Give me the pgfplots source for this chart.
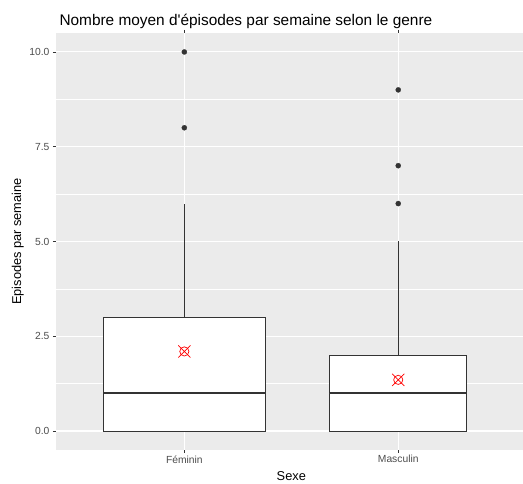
\documentclass[border=0pt]{standalone}
\usepackage{pgfplots}
\pgfplotsset{compat=1.18}
\usepgfplotslibrary{statistics}
\usetikzlibrary{plotmarks}
\usepackage{fontspec}
\setmainfont{Liberation Sans}
\definecolor{panelbg}{HTML}{EBEBEB}
\definecolor{grey20}{HTML}{333333}
\definecolor{grey30}{HTML}{4D4D4D}
\begin{document}
\begin{tikzpicture}
\clip (0pt,0pt) rectangle (523pt,484pt);
\path[use as bounding box] (0pt,0pt) rectangle (523pt,484pt);
\fill[white] (0pt,0pt) rectangle (523pt,484pt);
\begin{axis}[
  at={(56pt,34pt)}, anchor=south west,
  scale only axis, width=470.6pt, height=417pt,
  xmin=0.4, xmax=2.6, ymin=-0.5, ymax=10.5,
  axis background/.style={fill=panelbg},
  axis line style={draw=none},
  xtick={1,2}, xticklabels={Féminin,Masculin},
  ytick={0,2.5,5,7.5,10},
  minor ytick={1.25,3.75,6.25,8.75},
  yticklabel style={/pgf/number format/.cd,fixed,fixed zerofill,precision=1,assume math mode=true},
  ticklabel style={font=\fontsize{10.3}{12}\selectfont, text=grey30},
  xticklabel style={yshift=1pt},
  tick align=outside, major tick length=3pt, minor tick length=0pt,
  tick style={grey20, line width=0.8pt},
  grid=both,
  major grid style={white, line width=1.1pt},
  minor grid style={white, line width=0.55pt},
  boxplot/draw direction=y,
  boxplot/whisker extend=0,
  boxplot/every median/.style={line width=2pt},
  clip=false,
]
\addplot[draw=grey20, line width=0.9pt, fill=white, mark=*, mark size=2.6pt, mark options={fill=grey20, draw=grey20, line width=0.2pt},
  boxplot prepared={lower whisker=0, lower quartile=0, median=1, upper quartile=3, upper whisker=6, draw position=1, box extend=0.756}]
  coordinates {(0,8) (0,10)};
\addplot[draw=grey20, line width=0.9pt, fill=white, mark=*, mark size=2.6pt, mark options={fill=grey20, draw=grey20, line width=0.2pt},
  boxplot prepared={lower whisker=0, lower quartile=0, median=1, upper quartile=2, upper whisker=5, draw position=2, box extend=0.642}]
  coordinates {(0,6) (0,7) (0,9)};
\addplot[only marks, mark=o, mark size=4.6pt, draw=red, mark options={line width=0.7pt}] coordinates {(1,2.1) (2,1.35)};
\addplot[only marks, mark=x, mark size=8.6pt, draw=red, mark options={line width=0.7pt}] coordinates {(1,2.1) (2,1.35)};
\end{axis}
\node[anchor=base west, font=\fontsize{15.4}{18}\selectfont] at (56pt,458pt) {Nombre moyen d\textquotesingle épisodes par semaine selon le genre};
\node[anchor=base, rotate=90, font=\fontsize{12.8}{15}\selectfont] at (21pt,242.5pt) {Episodes par semaine};
\node[anchor=base, font=\fontsize{12.8}{15}\selectfont] at (291.3pt,3.5pt) {Sexe};
\end{tikzpicture}
\end{document}
